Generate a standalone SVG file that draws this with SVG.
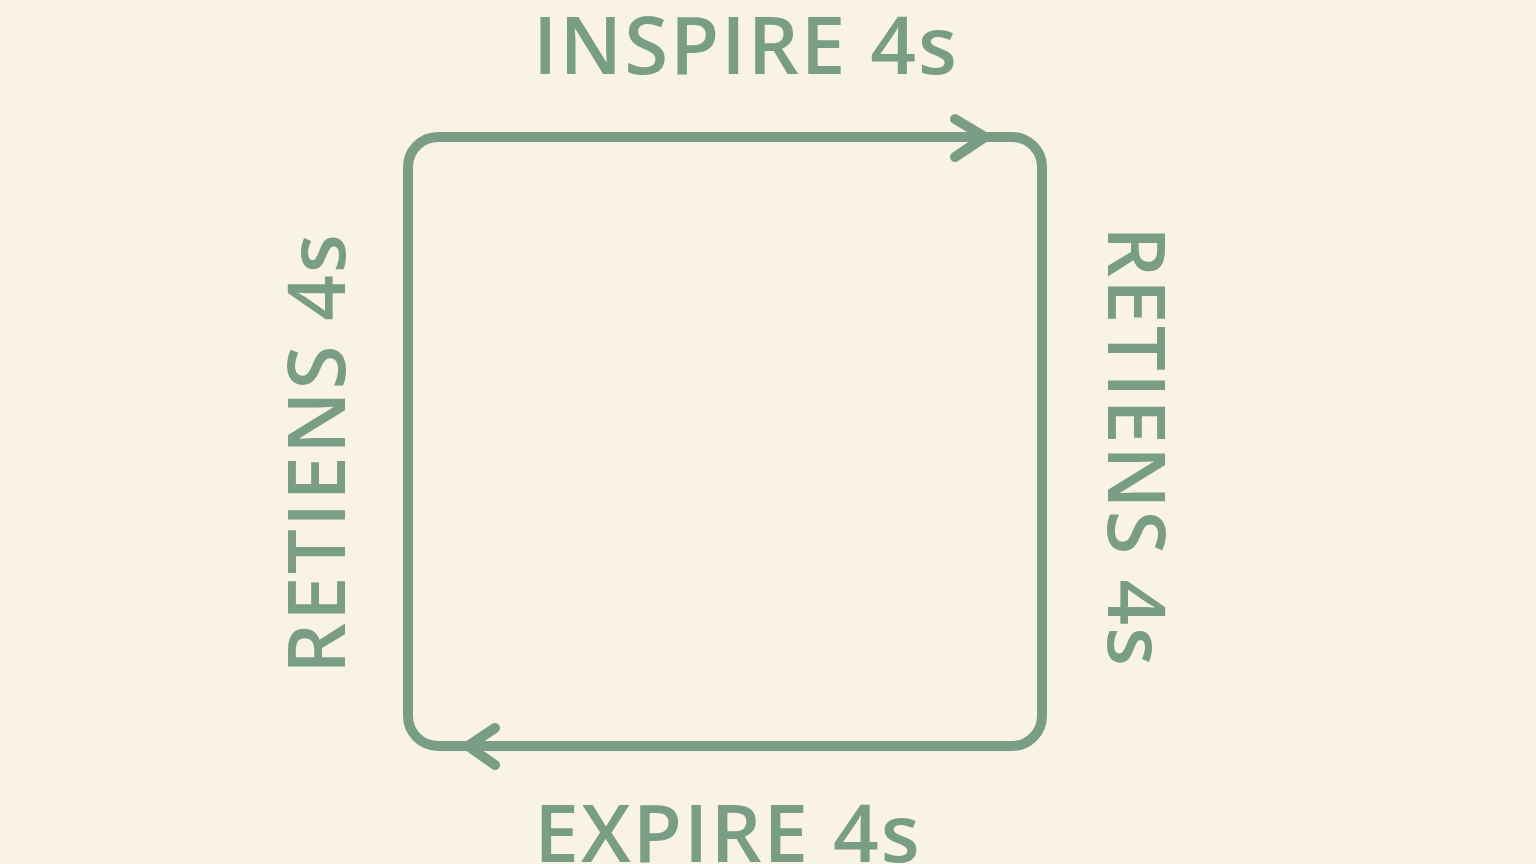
<svg xmlns="http://www.w3.org/2000/svg" width="1536" height="864" viewBox="0 0 1536 864">
<style>
.lbl{font-family:"Open Sans","Liberation Sans",sans-serif;font-size:80px;font-weight:600;fill:#7a9e85;letter-spacing:2px}
.ln{fill:none;stroke:#7a9e85;stroke-width:10;stroke-linecap:round;stroke-linejoin:round}
</style>
<rect width="1536" height="864" fill="#f8f3e5"/>
<g id="connectors">
<rect class="ln" x="408" y="137" width="634" height="609" rx="30"/>
<path class="ln" d="M955 119 L985 137 L955 157"/>
<path class="ln" d="M495 728 L468 746 L495 765"/>
</g>
<g id="inspire"><text class="lbl" x="746" y="74" text-anchor="middle">INSPIRE 4s</text></g>
<g id="expire"><text class="lbl" x="728" y="862" text-anchor="middle">EXPIRE 4s</text></g>
<g id="retiens-left"><text class="lbl" transform="translate(345 453) rotate(-90)" text-anchor="middle">RETIENS 4s</text></g>
<g id="retiens-right"><text class="lbl" transform="translate(1108 447) rotate(90)" text-anchor="middle">RETIENS 4s</text></g>
</svg>
